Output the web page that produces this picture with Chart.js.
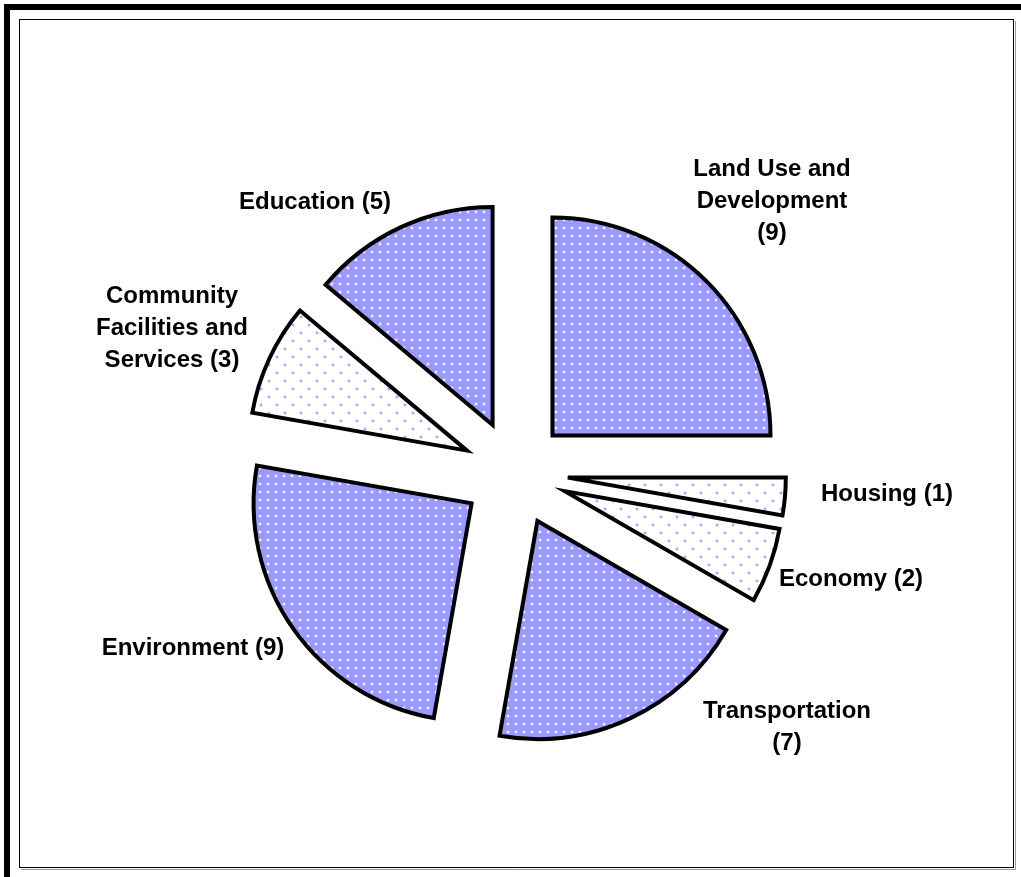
<!DOCTYPE html>
<html>
<head>
<meta charset="utf-8">
<script src="https://cdn.jsdelivr.net/npm/chart.js@4"></script>
<style>
  html, body { margin: 0; padding: 0; background: #fff; }
  canvas { display: block; }
</style>
</head>
<body>
<canvas id="pie" width="1021" height="877"></canvas>
<script>
(function () {
  // goals per topic, clockwise from 12 o'clock
  var categories = [
    "Land Use and\nDevelopment",
    "Housing",
    "Economy",
    "Transportation",
    "Environment",
    "Community\nFacilities and\nServices",
    "Education"
  ];
  var counts = [9, 1, 2, 7, 9, 3, 5];

  // count goes on its own line for these labels
  var countOnNewLine = [true, false, false, true, false, false, false];
  // "solid" = blue with light dots, "light" = white with blue dots
  var fillKind = ["solid", "light", "light", "solid", "solid", "light", "solid"];
  // label centre, relative to the pie centre
  var labelOffsets = [
    [257, -274], [372, 19], [336, 104], [272, 252],
    [-322, 173], [-343, -147], [-200, -273]
  ];
  var EXPLODE = 53;
  var LINE_H = 32;

  function makePattern(kind) {
    var c = document.createElement("canvas");
    var g = c.getContext("2d");
    if (kind === "solid") {
      c.width = 8; c.height = 8;
      g.fillStyle = "#9999ff";
      g.fillRect(0, 0, 8, 8);
      g.fillStyle = "#b0b0ff";
      g.fillRect(2, 3, 4, 2);
      g.fillRect(3, 2, 2, 4);
      g.fillStyle = "#eeeeff";
      g.fillRect(3, 3, 2, 2);
    } else {
      c.width = 16; c.height = 16;
      g.fillStyle = "#ffffff";
      g.fillRect(0, 0, 16, 16);
      [[4, 4], [12, 12]].forEach(function (p) {
        g.fillStyle = "#e2e2ff";
        g.fillRect(p[0] - 1, p[1], 4, 2);
        g.fillRect(p[0], p[1] - 1, 2, 4);
        g.fillStyle = "#a8a8ff";
        g.fillRect(p[0], p[1], 2, 2);
      });
    }
    return g.createPattern(c, "repeat");
  }

  var patterns = { solid: makePattern("solid"), light: makePattern("light") };

  // frame: heavy bars top/left, thin box with grey shadow inside
  var framePlugin = {
    id: "frame",
    beforeDraw: function (chart) {
      var ctx = chart.ctx;
      ctx.save();
      ctx.fillStyle = "#fff";
      ctx.fillRect(0, 0, chart.width, chart.height);
      ctx.fillStyle = "#000";
      ctx.fillRect(4, 4, chart.width - 4, 6);
      ctx.fillRect(4, 4, 6, chart.height - 4);
      ctx.strokeStyle = "#999";
      ctx.lineWidth = 1;
      ctx.beginPath();
      ctx.moveTo(1015.5, 21); ctx.lineTo(1015.5, 869.5); ctx.lineTo(21, 869.5);
      ctx.stroke();
      ctx.strokeStyle = "#000";
      ctx.strokeRect(19.5, 19.5, 994, 848);
      ctx.restore();
    }
  };

  // push every slice out from the centre along its mid angle
  var explodePlugin = {
    id: "explode",
    afterDatasetUpdate: function (chart, args) {
      args.meta.data.forEach(function (arc) {
        var mid = (arc.startAngle + arc.endAngle) / 2;
        arc.x += Math.cos(mid) * EXPLODE;
        arc.y += Math.sin(mid) * EXPLODE;
      });
    }
  };

  var labelPlugin = {
    id: "sliceLabels",
    afterDatasetsDraw: function (chart) {
      var ctx = chart.ctx;
      var area = chart.chartArea;
      var cx = (area.left + area.right) / 2;
      var cy = (area.top + area.bottom) / 2;
      ctx.save();
      ctx.fillStyle = "#000";
      ctx.font = "bold 24px 'Liberation Sans', Arial, sans-serif";
      ctx.textAlign = "center";
      ctx.textBaseline = "middle";
      categories.forEach(function (name, i) {
        var lines = name.split("\n");
        var tail = "(" + counts[i] + ")";
        if (countOnNewLine[i]) lines.push(tail);
        else lines[lines.length - 1] += " " + tail;
        var x = cx + labelOffsets[i][0];
        var y0 = cy + labelOffsets[i][1] - (lines.length - 1) * LINE_H / 2;
        lines.forEach(function (t, k) {
          ctx.fillText(t, x, y0 + k * LINE_H + 2);
        });
      });
      ctx.restore();
    }
  };

  new Chart(document.getElementById("pie"), {
    type: "pie",
    data: {
      labels: categories,
      datasets: [{
        data: counts,
        backgroundColor: fillKind.map(function (k) { return patterns[k]; }),
        borderColor: "#000",
        borderWidth: 4,
        borderJoinStyle: "miter",
        hoverOffset: 0
      }]
    },
    options: {
      responsive: false,
      animation: false,
      devicePixelRatio: 1,
      radius: 218,
      layout: { padding: { left: 9, right: 0, top: 69, bottom: 0 } },
      plugins: {
        legend: { display: false },
        tooltip: { enabled: false }
      },
      events: []
    },
    plugins: [framePlugin, explodePlugin, labelPlugin]
  });
})();
</script>
</body>
</html>
